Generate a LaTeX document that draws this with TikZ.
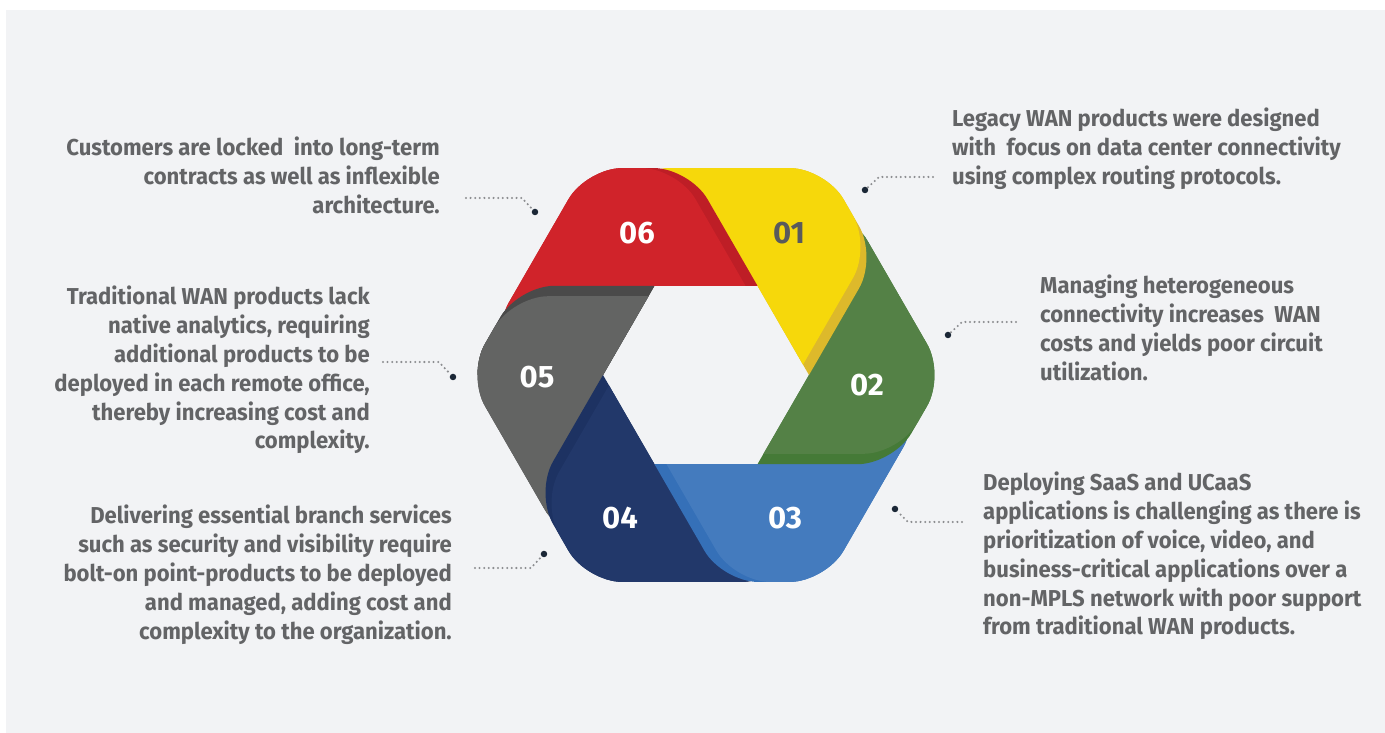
\documentclass[tikz,border=0pt]{standalone}
\usepackage{fontspec}
\setmainfont{Fira Sans}[FakeStretch=0.96]
\newfontfamily\numfont{Fira Sans}
\definecolor{bg}{HTML}{F2F3F5}
\definecolor{txtgray}{HTML}{636466}
\definecolor{dotgray}{HTML}{8C8D90}
\definecolor{dotdark}{HTML}{1B2736}
\definecolor{redm}{HTML}{D0232A}
\definecolor{redd}{HTML}{BE1E26}
\definecolor{yelm}{HTML}{F6D80B}
\definecolor{yeld}{HTML}{DDB92B}
\definecolor{grnm}{HTML}{548146}
\definecolor{grnd}{HTML}{457A37}
\definecolor{blum}{HTML}{447BBE}
\definecolor{blud}{HTML}{3570B8}
\definecolor{navm}{HTML}{22386A}
\definecolor{navd}{HTML}{1D3262}
\definecolor{gram}{HTML}{636463}
\definecolor{grad}{HTML}{4A4A4A}
\newcommand{\hexpiece}[3]{%
  \begin{scope}[rotate=#1]
    \fill[#2] (-51.5,89.201) [rounded corners=36pt] -- (-187.5,89.201) -- (-239,0) -- (-143.4,-165.584) [sharp corners] -- (-103,0) -- cycle;
    \fill[#3] (-57.5,78.809) [rounded corners=36pt] -- (-193.5,78.809) -- (-239,0) -- (-143.4,-165.584) [sharp corners] -- (-103,0) -- cycle;
  \end{scope}}
\begin{document}
\begin{tikzpicture}[x=1pt,y=1pt,
  txt/.style={font=\fontsize{23}{28.8}\selectfont\bfseries, text=txtgray, inner sep=0pt},
  num/.style={font=\numfont\fontsize{31}{31}\selectfont\bfseries, text=white, inner sep=0pt},
  dots/.style={draw=dotgray, line width=2.3pt, line cap=round, dash pattern=on 0pt off 4.6pt},
  enddot/.style={circle, fill=dotdark, inner sep=0pt, minimum size=6.5pt}]
\useasboundingbox (-706,-358) rectangle (679,375);
\fill[white] (-706,-358) rectangle (679,375);
\fill[bg] (-700,-358) rectangle (679,365);
% hexagon pieces
\hexpiece{0}{grad}{gram}
\hexpiece{60}{navd}{navm}
\hexpiece{120}{blud}{blum}
\hexpiece{180}{grnd}{grnm}
\hexpiece{240}{yeld}{yelm}
\hexpiece{300}{redd}{redm}
\begin{scope}
  \clip (-300,0) rectangle (0,300);
  \hexpiece{0}{grad}{gram}
\end{scope}
% numbers
\node[num] (n6) at (-69,142) {06};
\node[num, text=txtgray!90!black] (n1) at (83,142) {01};
\node[num] (n2) at (161,-10) {02};
\node[num] (n3) at (79,-143) {03};
\node[num] (n4) at (-86,-143) {04};
\node[num] (n5) at (-169,-2) {05};
% texts
\node[txt, align=right, anchor=north east] (t6) at (-266,238) {Customers are locked\ \ into long-term\\contracts as well as inflexible\\architecture.};
\node[txt, align=right, anchor=north east] (t5) at (-336,89) {Traditional WAN products lack\\native analytics, requiring\\additional products to be\\deployed in each remote office,\\thereby increasing cost and\\complexity.};
\node[txt, align=right, anchor=north east] (t4) at (-254,-130) {Delivering essential branch services\\such as security and visibility require\\bolt-on point-products to be deployed\\and managed, adding cost and\\complexity to the organization.};
\node[txt, align=left, anchor=north west] (t1) at (246,267) {Legacy WAN products were designed\\with\ \ focus on data center connectivity\\using complex routing protocols.};
\node[txt, align=left, anchor=north west] (t2) at (334,100) {Managing heterogeneous\\connectivity increases\ \ WAN\\costs and yields poor circuit\\utilization.};
\node[txt, align=left, anchor=north west] (t3) at (277,-97) {Deploying SaaS and UCaaS\\applications is challenging as there is\\prioritization of voice, video, and\\business-critical applications over a\\non-MPLS network with poor support\\from traditional WAN products.};
% connectors
\node[enddot] (d6) at (-171,163) {};
\coordinate (c6) at (-240,177);
\draw[dots] (c6) -- ++(56,0) -- (d6);
\node[enddot] (d1) at (159,185) {};
\coordinate (c1) at (227,198);
\draw[dots] (c1) -- ++(-54,0) -- (d1);
\node[enddot] (d5) at (-253,-2) {};
\coordinate (c5) at (-323,13);
\draw[dots] (c5) -- ++(56,0) -- (d5);
\node[enddot] (d2) at (242,40) {};
\coordinate (c2) at (310,53);
\draw[dots] (c2) -- ++(-54,0) -- (d2);
\node[enddot] (d4) at (-162,-179) {};
\coordinate (c4) at (-231,-193);
\draw[dots] (c4) -- ++(56,0) -- (d4);
\node[enddot] (d3) at (189,-134) {};
\coordinate (c3) at (256,-147);
\draw[dots] (c3) -- ++(-54,0) -- (d3);
\end{tikzpicture}
\end{document}
